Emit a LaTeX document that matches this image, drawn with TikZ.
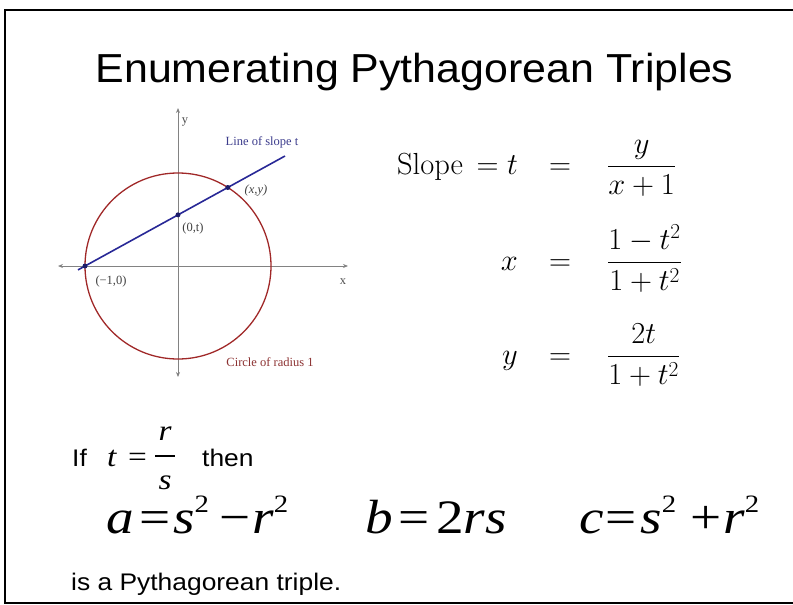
\RequirePackage{fix-cm}
\documentclass[tikz,border=0pt]{standalone}
\usepackage{fontspec}
\usepackage{amsmath}
\usepackage{graphicx}
\newfontfamily\arialf{Liberation Sans}
\newfontfamily\tnrf{Liberation Serif}
\usetikzlibrary{arrows.meta}
\definecolor{lineblue}{RGB}{40,40,150}
\definecolor{circred}{RGB}{160,40,40}
\definecolor{labblue}{RGB}{60,60,140}
\definecolor{labred}{RGB}{140,50,50}
\definecolor{axisgray}{RGB}{130,130,130}
\newcommand\supx[1]{\raisebox{21pt}{\fontsize{25}{25}\selectfont\upshape #1}}
\newcommand\wideS[1]{\scalebox{1.1}[1]{#1}}
\newcommand\wideT[1]{\scalebox{1.15}[1]{#1}}
\newcommand\hs[1]{\hspace{#1em}}
\tikzset{
  border/.style={line width=2.4pt, black},
  axisline/.style={axisgray, line width=0.9pt, {Stealth[length=5pt,width=4pt]}-{Stealth[length=5pt,width=4pt]}},
  dotpt/.style={circle, fill=lineblue!70!black, inner sep=0pt, minimum size=5pt},
  glab/.style={font=\tnrf\fontsize{12.5}{12.5}\selectfont, inner sep=0pt},
  eqn/.style={font=\fontsize{30.5}{36}\selectfont, inner sep=0pt},
  sans/.style={font=\arialf\fontsize{24}{26}\selectfont, inner sep=0pt},
  big/.style={font=\tnrf\fontsize{48}{50}\selectfont, inner sep=0pt},
  mid/.style={font=\tnrf\fontsize{29}{29}\selectfont, inner sep=0pt},
}
\begin{document}
\begin{tikzpicture}[x=1pt,y=-1pt]
\useasboundingbox (0,0) rectangle (793,605);
% frame
\coordinate (f1) at (793,10);
\coordinate (f2) at (5,10);
\coordinate (f3) at (5,603);
\coordinate (f4) at (793,603);
\draw[border] (f1) -- (f2) -- (f3) -- (f4);
% title
\node[font=\arialf\fontsize{40.5}{44}\selectfont, inner sep=0pt, anchor=base] (title) at (414.5,82) {\scalebox{1.06}[1]{Enumerating Pythagorean Triples}};
% graph
\coordinate (O) at (178,266);
\coordinate (axl) at (58,266);
\coordinate (axr) at (348,266);
\coordinate (axt) at (178,108);
\coordinate (axb) at (178,377);
\draw[axisline] (axl) -- (axr);
\draw[axisline] (axb) -- (axt);
\draw[circred, line width=1.3pt] (O) circle[radius=93];
\coordinate (ls) at (78,269.9);
\coordinate (le) at (285,156);
\draw[lineblue, line width=1.6pt] (ls) -- (le);
\node[dotpt] (pm) at (85,266) {};
\node[dotpt] (p0) at (178,214.85) {};
\node[dotpt] (pxy) at (227.8,187.5) {};
\node[glab, text=axisgray!60!black] (ylab) at (185,122) {y};
\node[glab, text=axisgray!60!black] (xlab) at (343,282) {x};
\node[glab, text=labblue] (lslope) at (262,142) {Line of slope t};
\node[glab, text=black!75, font=\tnrf\itshape\fontsize{12.5}{12.5}\selectfont] (lxy) at (256,191) {(x,y)};
\node[glab, text=black!75] (l0t) at (193,228) {(0,t)};
\node[glab, text=black!75] (lm1) at (111,281) {(−1,0)};
\node[glab, text=labred] (lcirc) at (270,362) {Circle of radius 1};
% right equations
\node[eqn, anchor=base east] (e1l) at (518,174) {$\mbox{Slope}\,= t$};
\node[eqn, anchor=base] (e1m) at (560,174) {$=$};
\node[eqn, anchor=base west] (e1r) at (607,174) {$\displaystyle\frac{y}{x+1}$};
\node[eqn, anchor=base east] (e2l) at (518,270) {$x$};
\node[eqn, anchor=base] (e2m) at (560,270) {$=$};
\node[eqn, anchor=base west] (e2r) at (607,270) {$\displaystyle\frac{1-t^2}{1+t^2}$};
\node[eqn, anchor=base east] (e3l) at (518,364) {$y$};
\node[eqn, anchor=base] (e3m) at (560,364) {$=$};
\node[eqn, anchor=base west] (e3r) at (607,364) {$\displaystyle\frac{2t}{1+t^2}$};
% If t = r/s then
\node[sans, anchor=base west] (if) at (72,466) {\wideS{If}};
\node[mid, anchor=base west] (tv) at (107,466) {\wideT{\itshape t}};
\node[mid, anchor=base west] (teq) at (128,466) {\wideT{=}};
\node[mid, anchor=base] (rv) at (165,440) {\wideT{\itshape r}};
\node[mid, anchor=base] (sv) at (165,489) {\wideT{\itshape s}};
\coordinate (bl) at (155,456);
\coordinate (br) at (175,456);
\draw[line width=1.3pt] (bl) -- (br);
\node[sans, anchor=base west] (then) at (202,466) {\wideS{then}};
% big equations
\node[big, anchor=base west] (ea) at (106,533) {\wideT{\itshape a\hs{0.1}\upshape=\hs{0.05}\itshape s\supx{2}\hs{0.18}\upshape−\hs{0.04}\itshape r\supx{2}}};
\node[big, anchor=base west] (eb) at (365,533) {\wideT{\itshape b\hs{0.1}\upshape=\hs{0.12}2\itshape rs}};
\node[big, anchor=base west] (ec) at (579,533) {\wideT{\itshape c\hs{0.04}\upshape=\hs{0.06}\itshape s\supx{2}\hs{0.25}\upshape+\hs{0.04}\itshape r\supx{2}}};
% last line
\node[sans, anchor=base west] (last) at (71,590) {\wideS{is a Pythagorean triple.}};
\end{tikzpicture}
\end{document}
